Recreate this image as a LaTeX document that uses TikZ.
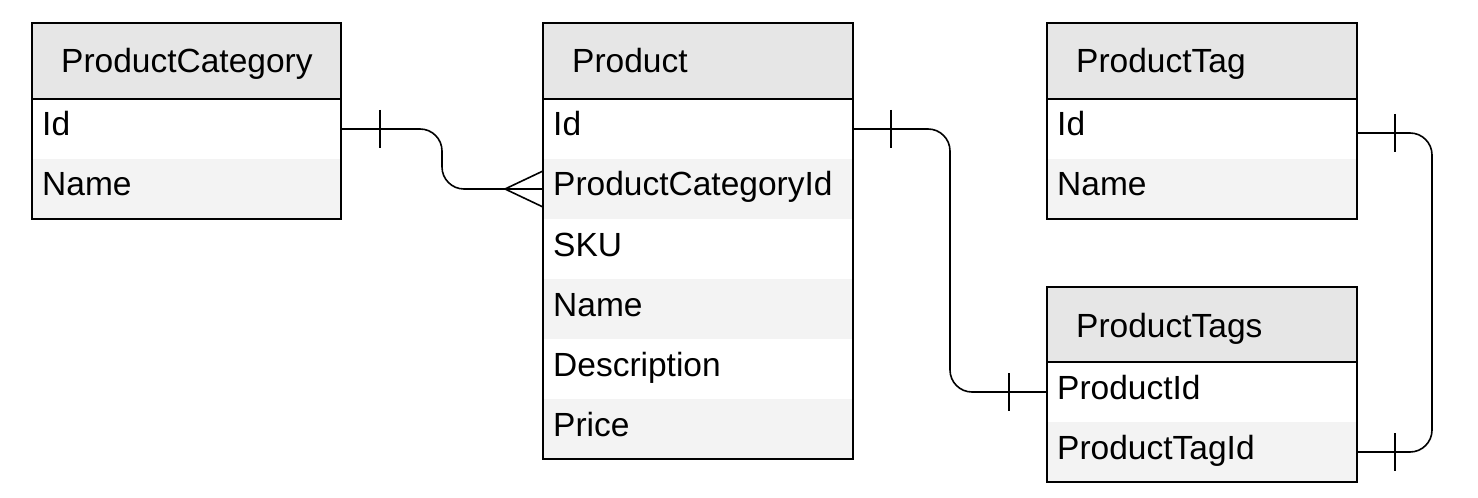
\documentclass[tikz,border=0pt]{standalone}
\usepackage{fontspec}
\setmainfont{Liberation Sans}
\definecolor{hdrgray}{HTML}{E6E6E6}
\definecolor{rowgray}{HTML}{F3F3F3}
\tikzset{
  hdr/.style={fill=hdrgray, minimum height=76bp, anchor=north west, inner sep=0pt, outer sep=0pt},
  roww/.style={fill=white, minimum height=60bp, anchor=north west, inner sep=0pt, outer sep=0pt},
  rowg/.style={roww, fill=rowgray},
  lbl/.style={anchor=base west, inner sep=0pt, font=\fontsize{33.5bp}{40bp}\selectfont},
  frame/.style={draw=black, line width=2bp},
  rel/.style={draw=black, line width=1.6bp, rounded corners=22bp},
  tick/.style={draw=black, line width=1.6bp}
}
\begin{document}
\begin{tikzpicture}[x=1bp,y=-1bp]
\useasboundingbox (0,0) rectangle (1478,498);

% ---------- ProductCategory ----------
\node[hdr, minimum width=309bp] (pcH) at (32,23) {};
\node[roww, minimum width=309bp] (pcId) at (32,99) {};
\node[rowg, minimum width=309bp] (pcName) at (32,159) {};
\draw[frame] (pcH.south west) -- (pcH.south east);
\draw[frame] (pcH.north west) rectangle (pcName.south east);
\node[lbl] (pcHt) at ([xshift=29bp,yshift=-50bp]pcH.north west) {ProductCategory};
\node[lbl] (pcIdt) at ([xshift=10bp,yshift=-37bp]pcId.north west) {Id};
\node[lbl] (pcNamet) at ([xshift=10bp,yshift=-37bp]pcName.north west) {Name};

% ---------- Product ----------
\node[hdr, minimum width=310bp] (pdH) at (543,23) {};
\node[roww, minimum width=310bp] (pdId) at (543,99) {};
\node[rowg, minimum width=310bp] (pdCat) at (543,159) {};
\node[roww, minimum width=310bp] (pdSku) at (543,219) {};
\node[rowg, minimum width=310bp] (pdName) at (543,279) {};
\node[roww, minimum width=310bp] (pdDesc) at (543,339) {};
\node[rowg, minimum width=310bp] (pdPrice) at (543,399) {};
\draw[frame] (pdH.south west) -- (pdH.south east);
\draw[frame] (pdH.north west) rectangle (pdPrice.south east);
\node[lbl] (pdHt) at ([xshift=29bp,yshift=-50bp]pdH.north west) {Product};
\node[lbl] (pdIdt) at ([xshift=10bp,yshift=-37bp]pdId.north west) {Id};
\node[lbl] (pdCatt) at ([xshift=10bp,yshift=-37bp]pdCat.north west) {ProductCategoryId};
\node[lbl] (pdSkut) at ([xshift=10bp,yshift=-37bp]pdSku.north west) {SKU};
\node[lbl] (pdNamet) at ([xshift=10bp,yshift=-37bp]pdName.north west) {Name};
\node[lbl] (pdDesct) at ([xshift=10bp,yshift=-37bp]pdDesc.north west) {Description};
\node[lbl] (pdPricet) at ([xshift=10bp,yshift=-37bp]pdPrice.north west) {Price};

% ---------- ProductTag ----------
\node[hdr, minimum width=310bp] (ptH) at (1047,23) {};
\node[roww, minimum width=310bp] (ptId) at (1047,99) {};
\node[rowg, minimum width=310bp] (ptName) at (1047,159) {};
\draw[frame] (ptH.south west) -- (ptH.south east);
\draw[frame] (ptH.north west) rectangle (ptName.south east);
\node[lbl] (ptHt) at ([xshift=29bp,yshift=-50bp]ptH.north west) {ProductTag};
\node[lbl] (ptIdt) at ([xshift=10bp,yshift=-37bp]ptId.north west) {Id};
\node[lbl] (ptNamet) at ([xshift=10bp,yshift=-37bp]ptName.north west) {Name};

% ---------- ProductTags ----------
\node[hdr, minimum width=310bp, minimum height=75bp] (ptsH) at (1047,287) {};
\node[roww, minimum width=310bp] (ptsPid) at (1047,362) {};
\node[rowg, minimum width=310bp] (ptsTid) at (1047,422) {};
\draw[frame] (ptsH.south west) -- (ptsH.south east);
\draw[frame] (ptsH.north west) rectangle (ptsTid.south east);
\node[lbl] (ptsHt) at ([xshift=29bp,yshift=-50bp]ptsH.north west) {ProductTags};
\node[lbl] (ptsPidt) at ([xshift=10bp,yshift=-37bp]ptsPid.north west) {ProductId};
\node[lbl] (ptsTidt) at ([xshift=10bp,yshift=-37bp]ptsTid.north west) {ProductTagId};

% ---------- Relations ----------
% ProductCategory.Id  ->  Product.ProductCategoryId (one to many)
\draw[rel] (pcId.east) -- ++(101,0) |- ([xshift=-38bp]pdCat.west) -- (pdCat.west);
\draw[tick] (pcId.east) ++(39,-19) -- ++(0,38);
\draw[tick] (pdCat.west) ++(-38,0) -- ++(38,-18);
\draw[tick] (pdCat.west) ++(-38,0) -- ++(38,18);

% Product.Id  ->  ProductTags.ProductId (one to one)
\draw[rel] (pdId.east) -- ++(97,0) |- (ptsPid.west);
\draw[tick] (pdId.east) ++(38,-19) -- ++(0,38);
\draw[tick] (ptsPid.west) ++(-38,-19) -- ++(0,38);

% ProductTag.Id  ->  ProductTags.ProductTagId (one to one)
\draw[rel] (ptId.east) ++(0,4) -- ++(75,0) |- (ptsTid.east);
\draw[tick] (ptId.east) ++(38,-15) -- ++(0,38);
\draw[tick] (ptsTid.east) ++(38,-19) -- ++(0,38);
\end{tikzpicture}
\end{document}
